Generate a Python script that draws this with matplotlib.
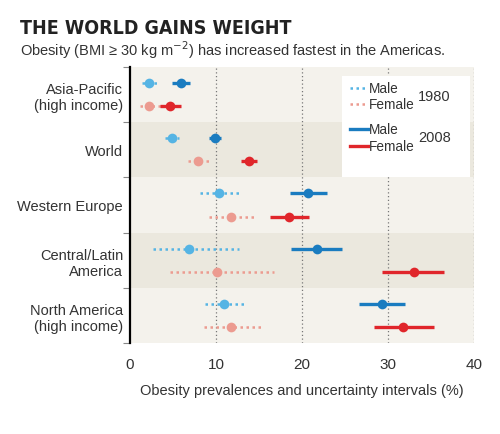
import numpy as np
import matplotlib
matplotlib.use('Agg')
import matplotlib.pyplot as plt
from matplotlib.patches import Rectangle
from matplotlib.lines import Line2D

# regions, top to bottom
regions = ['Asia-Pacific\n(high income)', 'World', 'Western Europe',
           'Central/Latin\nAmerica', 'North America\n(high income)']

# estimate, low, high (%)
male_1980 = [2.2, 4.85, 10.35, 6.9, 10.9]
male_1980_lo = [1.4, 4.1, 8.1, 2.7, 8.7]
male_1980_hi = [3.4, 5.7, 12.7, 12.7, 13.4]
female_1980 = [2.2, 7.9, 11.8, 10.1, 11.7]
female_1980_lo = [1.2, 6.7, 9.2, 4.7, 8.6]
female_1980_hi = [3.6, 9.4, 14.4, 16.7, 15.3]
male_2008 = [5.9, 9.9, 20.7, 21.7, 29.3]
male_2008_lo = [4.9, 9.2, 18.6, 18.75, 26.6]
male_2008_hi = [7.0, 10.6, 22.9, 24.7, 31.95]
female_2008 = [4.65, 13.8, 18.5, 33.0, 31.8]
female_2008_lo = [3.5, 12.9, 16.3, 29.3, 28.4]
female_2008_hi = [5.9, 14.8, 20.8, 36.5, 35.3]

c_m80 = '#55b4e4'
c_f80 = '#ec9b90'
c_m08 = '#1a7cc0'
c_f08 = '#e0262b'

plt.rcParams['font.family'] = ['Liberation Sans', 'DejaVu Sans']

fig = plt.figure(figsize=(5, 4.35), dpi=100)
ax = fig.add_axes([0.26, 0.209, 0.688, 0.635])

n = len(regions)
ypos = np.arange(n)
off = 0.21

# background bands
band_cols = ['#f4f2ec', '#ebe8de']
for i in range(n):
    ax.axhspan(i - 0.5, i + 0.5, color=band_cols[i % 2], zorder=0, lw=0)

for x in [10, 20, 30, 40]:
    ax.axvline(x, color='#777777', lw=0.9, ls=(0, (1, 2)), zorder=1)

def draw(vals, lo, hi, y, col, dotted):
    for v, a, b, yy in zip(vals, lo, hi, y):
        if dotted:
            ax.plot([a, b], [yy, yy], color=col, lw=1.8, ls=(0, (1, 1.4)),
                    zorder=3)
        else:
            ax.plot([a, b], [yy, yy], color=col, lw=2.4, solid_capstyle='butt',
                    zorder=3)
        ax.plot(v, yy, 'o', color=col, ms=7, mew=0, zorder=4)

draw(male_1980, male_1980_lo, male_1980_hi, ypos - off, c_m80, True)
draw(female_1980, female_1980_lo, female_1980_hi, ypos + off, c_f80, True)
draw(male_2008, male_2008_lo, male_2008_hi, ypos - off, c_m08, False)
draw(female_2008, female_2008_lo, female_2008_hi, ypos + off, c_f08, False)

ax.set_xlim(0, 40)
ax.set_ylim(n - 0.5, -0.5)
ax.set_xticks([0, 10, 20, 30, 40])
ax.set_xticklabels(['0', '10', '20', '30', '40'])
ax.tick_params(axis='x', length=0, labelsize=11, pad=10, colors='#333333')
ax.set_yticks(ypos)
ax.set_yticklabels(regions, fontsize=10.5, color='#333333')
ax.tick_params(axis='y', length=0, pad=5)
ax.set_yticks(np.arange(-0.5, n + 0.5), minor=True)
ax.tick_params(axis='y', which='minor', length=5, color='#888888', width=0.8)
for s in ['top', 'right', 'bottom']:
    ax.spines[s].set_visible(False)
ax.spines['left'].set_linewidth(1.6)
ax.set_xlabel('Obesity prevalences and uncertainty intervals (%)',
              fontsize=10.5, color='#333333', labelpad=9)

# legend box
ax.add_patch(Rectangle((0.616, 0.601), 0.372, 0.366, transform=ax.transAxes,
                       facecolor='white', edgecolor='none', zorder=5))
leg = [(0.924, c_m80, True, 'Male'), (0.866, c_f80, True, 'Female'),
       (0.775, c_m08, False, 'Male'), (0.714, c_f08, False, 'Female')]
for yy, col, dotted, lab in leg:
    if dotted:
        ax.add_line(Line2D([0.64, 0.692], [yy, yy], transform=ax.transAxes,
                           color=col, lw=1.8, ls=(0, (1, 1.4)), zorder=6))
    else:
        ax.add_line(Line2D([0.64, 0.692], [yy, yy], transform=ax.transAxes,
                           color=col, lw=2.4, zorder=6))
    ax.text(0.695, yy, lab, transform=ax.transAxes, fontsize=9.8,
            color='#333333', va='center', ha='left', zorder=6)
ax.text(0.885, 0.895, '1980', transform=ax.transAxes, fontsize=10.5,
        color='#333333', va='center', ha='center', zorder=6)
ax.text(0.885, 0.745, '2008', transform=ax.transAxes, fontsize=10.5,
        color='#333333', va='center', ha='center', zorder=6)

fig.text(0.04, 0.934, 'THE WORLD GAINS WEIGHT', fontsize=14, fontweight='bold',
         family='DejaVu Sans', fontstretch='condensed', color='#222222',
         va='center', ha='left')
fig.text(0.04, 0.885, 'Obesity (BMI \u2265 30 kg m$^{-2}$) has increased fastest in the Americas.',
         fontsize=10.5, color='#333333', va='center', ha='left')

fig.savefig('out.png', dpi=100)
